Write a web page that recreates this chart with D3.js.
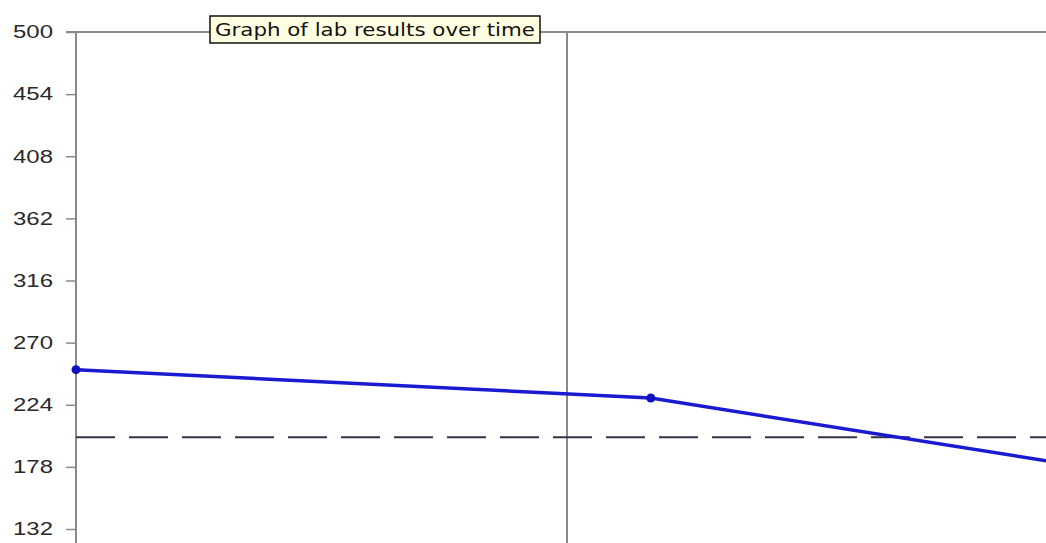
<!DOCTYPE html>
<html>
<head>
<meta charset="utf-8">
<script src="https://cdn.jsdelivr.net/npm/d3@7"></script>
<style>
  body { margin: 0; background: #fff; overflow: hidden; }
  svg { display: block; }
</style>
</head>
<body>
<svg width="1046" height="543"></svg>
<script>
// Data
var labDates = ["2006-07-15", "2007-01-30", "2007-07-05"];
var labValues = [250, 229, 176];
var yTicks = [500, 454, 408, 362, 316, 270, 224, 178, 132];
var targetValue = 200;
var markerDate = "2007-01-01";
var titleText = "Graph of lab results over time";

var parse = d3.timeParse("%Y-%m-%d");
var points = labDates.map(function (d, i) { return { date: parse(d), value: labValues[i] }; });

var svg = d3.select("svg"),
  width = +svg.attr("width"),
  height = +svg.attr("height");

// scales (plot continues past the bottom/right of the window)
var x = d3.scaleTime()
  .domain([parse("2006-07-15"), parse("2007-01-01")])
  .range([76, 567]);
var y = d3.scaleLinear()
  .domain([132, 500])
  .range([529, 32]);

// top border line
svg.append("line")
  .attr("x1", 66).attr("x2", width)
  .attr("y1", y(500)).attr("y2", y(500))
  .style("stroke", "#8a8a8a").style("stroke-width", 2);

// date separator
svg.append("line")
  .attr("x1", x(parse(markerDate))).attr("x2", x(parse(markerDate)))
  .attr("y1", y(500)).attr("y2", height)
  .style("stroke", "#8a8a8a").style("stroke-width", 2);

// y axis
var yAxis = d3.axisLeft(y).tickValues(yTicks).tickSize(10).tickPadding(13);
var gy = svg.append("g")
  .attr("transform", "translate(76,0)")
  .call(yAxis);
gy.select(".domain").remove();
gy.selectAll(".tick line").style("stroke", "#8a8a8a").style("stroke-width", 1.5);
gy.selectAll(".tick text")
  .style("font-family", "'Liberation Sans', Arial, sans-serif")
  .style("font-size", "18px")
  .style("fill", "#2a2a2a")
  .attr("textLength", 40)
  .attr("lengthAdjust", "spacingAndGlyphs");
gy.append("line")
  .attr("x1", 0).attr("x2", 0)
  .attr("y1", y(500)).attr("y2", height)
  .style("stroke", "#8a8a8a").style("stroke-width", 2);

// target dashed line
svg.append("line")
  .attr("x1", 76).attr("x2", width)
  .attr("y1", y(targetValue)).attr("y2", y(targetValue))
  .style("stroke", "#33334a").style("stroke-width", 2)
  .style("stroke-dasharray", "39,14");

// results line
var line = d3.line()
  .x(function (d) { return x(d.date); })
  .y(function (d) { return y(d.value); });

svg.append("path")
  .datum(points)
  .attr("d", line)
  .style("fill", "none")
  .style("stroke", "#1a1ad0")
  .style("stroke-width", 3.5);

svg.selectAll(".dot")
  .data(points)
  .enter()
  .append("circle")
  .attr("class", "dot")
  .attr("cx", function (d) { return x(d.date); })
  .attr("cy", function (d) { return y(d.value); })
  .attr("r", 4.5)
  .style("fill", "#1010c0");

// title tooltip box
var tb = svg.append("g").attr("transform", "translate(210,16)");
tb.append("rect")
  .attr("width", 330).attr("height", 27)
  .style("fill", "#ffffe1")
  .style("stroke", "#111").style("stroke-width", 1.5);
tb.append("text")
  .attr("x", 5).attr("y", 20)
  .style("font-family", "'DejaVu Sans', sans-serif")
  .style("font-size", "18px")
  .style("fill", "#111")
  .attr("textLength", 320)
  .attr("lengthAdjust", "spacingAndGlyphs")
  .text(titleText);
</script>
</body>
</html>
